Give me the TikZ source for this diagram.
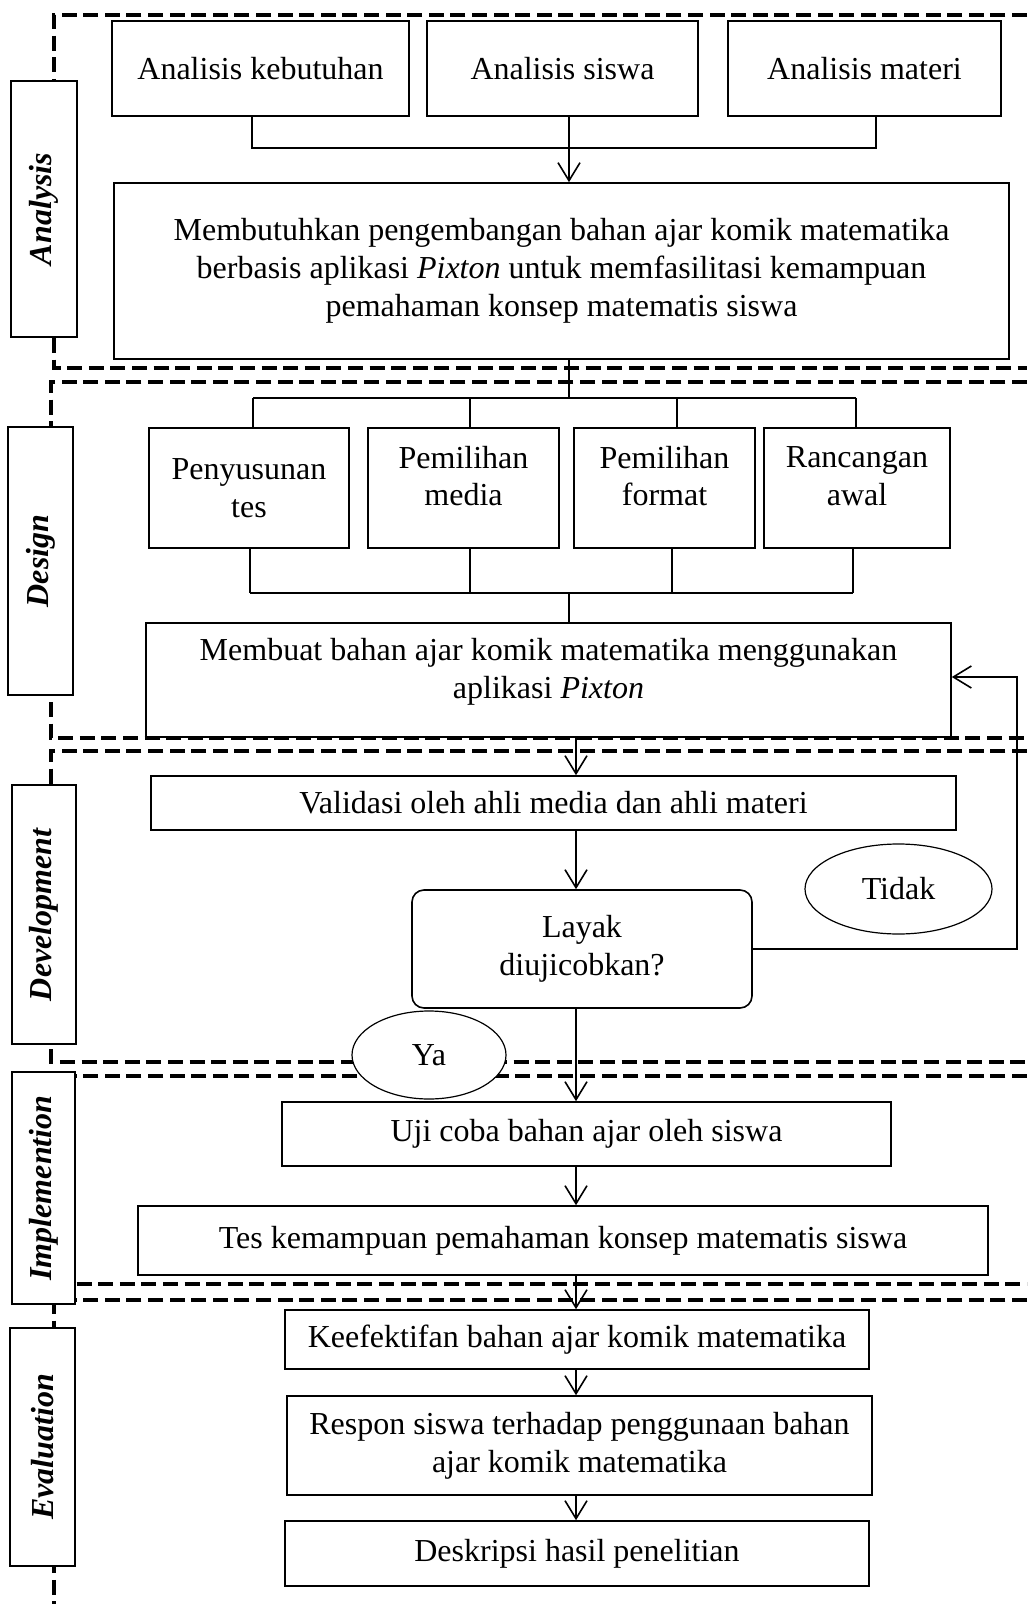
\documentclass[tikz,border=0pt]{standalone}
\usepackage{fontspec}
\setmainfont{Liberation Serif}
\usetikzlibrary{arrows.meta,shapes.geometric}

\tikzset{
    wh/.style 2 args={minimum width=#1*0.5pt, minimum height=#2*0.5pt},
    box/.style={draw, line width=0.8pt, inner sep=0pt, align=center},
    phase/.style={draw, fill=white, line width=1pt, inner sep=0pt, rotate=90},
    answer/.style={draw, ellipse, fill=white, line width=0.6pt, inner sep=0pt},
    phaseline/.style={line width=2.2pt, dash pattern=on 7.5pt off 3.3pt},
    link/.style={line width=0.8pt},
    flow/.style={line width=0.8pt, -{Straight Barb[length=9pt,width=11pt]}},
}

\begin{document}
\begin{tikzpicture}[x=0.5pt, y=-0.5pt, font=\fontsize{16}{18.9}\selectfont]
        \fill[white] (0,0) rectangle (1027,1604);
        \useasboundingbox (0,0) rectangle (1027,1604);
        % phase frames
        \draw[phaseline] (1027,15) -- (54,15) -- (54,368) -- (1027,368);
        \draw[phaseline] (1027,382) -- (51,382) -- (51,738) -- (1027,738);
        \draw[phaseline] (1027,751) -- (51,751) -- (51,1062) -- (1027,1062);
        \draw[phaseline] (1027,1076) -- (51,1076) -- (51,1284) -- (1027,1284);
        \draw[phaseline] (1027,1300) -- (54,1300) -- (54,1604);
        \begin{scope}
            \node[phase, wh={256}{66}] (lbA) at (44,209) {\textbf{\textit{Analysis}}};
            \node[phase, wh={268}{65}] (lbB) at (40.5,561) {\textbf{\textit{Design}}};
            \node[phase, wh={259}{64}] (lbC) at (44,914.5) {\textbf{\textit{Development}}};
            \node[phase, wh={232}{63}] (lbD) at (43.5,1188) {\textbf{\textit{Implemention}}};
            \node[phase, wh={238}{65}] (lbE) at (42.5,1447) {\textbf{\textit{Evaluation}}};
        \end{scope}
        \begin{scope}[every node/.style={box}]
            \node[wh={297}{95}] (keb) at (260.5,68.5) {Analisis kebutuhan};
            \node[wh={271}{95}] (sis) at (562.5,68.5) {Analisis siswa};
            \node[wh={273}{95}] (mat) at (864.5,68.5) {Analisis materi};
            \node[wh={895}{176}] (need) at (561.5,271) {Membutuhkan pengembangan bahan ajar komik matematika\\berbasis aplikasi \textit{Pixton} untuk memfasilitasi kemampuan\\pemahaman konsep matematis siswa};
            \node[wh={200}{120}] (tes) at (249,488) {Penyusunan\\tes};
            \node[wh={191}{120}, label={[align=center, yshift=6pt]center:Pemilihan\\media}] (media) at (463.5,488) {};
            \node[wh={181}{120}, label={[align=center, yshift=6pt]center:Pemilihan\\format}] (format) at (664.5,488) {};
            \node[wh={186}{120}, label={[align=center, yshift=6pt]center:Rancangan\\awal}] (awal) at (857,488) {};
            \node[wh={805}{114}, label={[align=center, yshift=4pt]center:Membuat bahan ajar komik matematika menggunakan\\aplikasi \textit{Pixton}}] (make) at (548.5,680) {};
            \node[wh={805}{54}] (valid) at (553.5,803) {Validasi oleh ahli media dan ahli materi};
            \node[wh={340}{118}, rounded corners=6pt] (layak) at (582,949) {Layak\\diujicobkan?};
            \node[answer, wh={187}{90}] (tidak) at (898.5,889) {Tidak};
            \node[answer, wh={154}{88}] (ya) at (429,1055) {Ya};
            \node[wh={609}{64}] (uji) at (586.5,1134) {Uji coba bahan ajar oleh siswa};
            \node[wh={850}{69}] (test) at (563,1240.5) {Tes kemampuan pemahaman konsep matematis siswa};
            \node[wh={584}{59}] (efek) at (577,1339.5) {Keefektifan bahan ajar komik matematika};
            \node[wh={585}{99}] (respon) at (579.5,1445.5) {Respon siswa terhadap penggunaan bahan\\ajar komik matematika};
            \node[wh={584}{65}] (desk) at (577,1553.5) {Deskripsi hasil penelitian};
        \end{scope}
        % junctions
        \coordinate (busL) at (252,148);
        \coordinate (busA) at (569,148);
        \coordinate (busR) at (876,148);
        \coordinate (t1) at (253,398);
        \coordinate (t2) at (470,398);
        \coordinate (t3) at (677,398);
        \coordinate (t4) at (856,398);
        \coordinate (busT) at (569,398);
        \coordinate (b1) at (250,593);
        \coordinate (b2) at (470,593);
        \coordinate (b3) at (672,593);
        \coordinate (b4) at (853,593);
        \coordinate (busB) at (569,593);
        \coordinate (colX) at (576,0);
        \coordinate (back) at (1017,677);
        \begin{scope}
            \draw[link] (keb.south -| busL) -- (busL) -- (busR) -- (mat.south -| busR);
            \draw[flow] (sis.south -| busA) -- (need.north -| busA);
            \draw[link] (need.south -| busT) -- (busT);
            \draw[link] (t1) -- (t4);
            \draw[link] (t1) -- (tes.north -| t1);
            \draw[link] (t2) -- (media.north -| t2);
            \draw[link] (t3) -- (format.north -| t3);
            \draw[link] (t4) -- (awal.north -| t4);
            \draw[link] (b1) -- (b4);
            \draw[link] (tes.south -| b1) -- (b1);
            \draw[link] (media.south -| b2) -- (b2);
            \draw[link] (format.south -| b3) -- (b3);
            \draw[link] (awal.south -| b4) -- (b4);
            \draw[link] (busB) -- (make.north -| busB);
            \draw[flow] (make.south -| colX) -- (valid.north -| colX);
            \draw[flow] (valid.south -| colX) -- (layak.north -| colX);
            \draw[flow] (layak.east) -| (back) -- (make.east |- back);
            \draw[flow] (layak.south -| colX) -- (uji.north -| colX);
            \draw[flow] (uji.south -| colX) -- (test.north -| colX);
            \draw[flow] (test.south -| colX) -- (efek.north -| colX);
            \draw[flow] (efek.south -| colX) -- (respon.north -| colX);
            \draw[flow] (respon.south -| colX) -- (desk.north -| colX);
        \end{scope}
    \end{tikzpicture}
\end{document}
